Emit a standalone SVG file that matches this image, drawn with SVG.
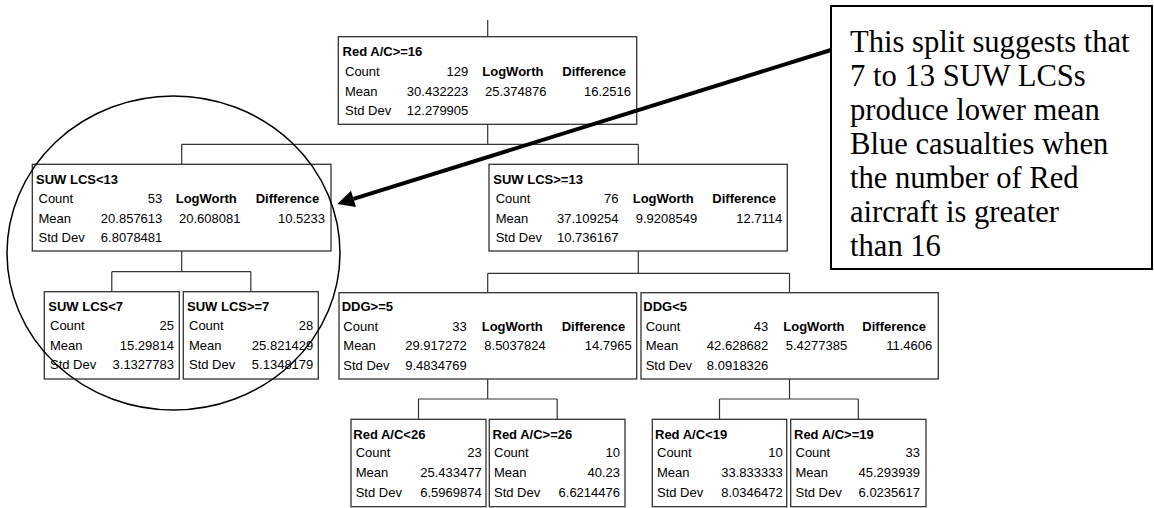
<svg xmlns="http://www.w3.org/2000/svg" width="1154" height="508" viewBox="0 0 1154 508">
<style>
  .box{fill:#fff;stroke:#333;stroke-width:1.3}
  .t{font-family:"Liberation Sans",Arial,sans-serif;font-size:13px;fill:#000}
  .b{font-weight:bold}
  .e{text-anchor:end}
  .conn{fill:none;stroke:#333;stroke-width:1.2}
  .note{font-family:"Liberation Serif","Times New Roman",serif;font-size:30.6px;fill:#000}
</style>
<rect width="1154" height="508" fill="#fff"/>
<g id="connectors" class="conn">
  <path d="M487.7,20 V36.7"/>
  <path d="M487.7,124.3 V144.3 M181.7,144.3 H638.3 M181.7,144.3 V164.3 M638.3,144.3 V164.3"/>
  <path d="M181.7,251 V271.7 M111.8,271.7 H250.8 M111.8,271.7 V291.7 M250.8,271.7 V291.7"/>
  <path d="M638.3,251 V273.3 M487.7,273.3 H789.5 M487.7,273.3 V292.7 M789.5,273.3 V292.7"/>
  <path d="M487.7,379 V399 M418.5,399 H557.2 M418.5,399 V419.3 M557.2,399 V419.3"/>
  <path d="M789.5,379 V399 M719.5,399 H858.3 M719.5,399 V419.3 M858.3,399 V419.3"/>
</g>
<g id="n-red16">
  <rect class="box" x="338.3" y="36.7" width="298.4" height="87.6"/>
  <text class="t b" x="342.6" y="56">Red A/C&gt;=16</text>
  <text class="t" x="345" y="76">Count</text>
  <text class="t e" x="468.3" y="76">129</text>
  <text class="t b" x="482.3" y="76">LogWorth</text>
  <text class="t b" x="562.3" y="76">Difference</text>
  <text class="t" x="345" y="95.5">Mean</text>
  <text class="t e" x="468.3" y="95.5">30.432223</text>
  <text class="t" x="485" y="95.5">25.374876</text>
  <text class="t e" x="631" y="95.5">16.2516</text>
  <text class="t" x="345" y="115">Std Dev</text>
  <text class="t e" x="468.3" y="115">12.279905</text>
</g>
<g id="n-suw-lt13">
  <rect class="box" x="32.3" y="164.3" width="298.7" height="86.7"/>
  <text class="t b" x="36" y="183.6">SUW LCS&lt;13</text>
  <text class="t" x="38.5" y="203.3">Count</text>
  <text class="t e" x="162.3" y="203.3">53</text>
  <text class="t b" x="175.7" y="203.3">LogWorth</text>
  <text class="t b" x="255.7" y="203.3">Difference</text>
  <text class="t" x="38.5" y="222.8">Mean</text>
  <text class="t e" x="162.3" y="222.8">20.857613</text>
  <text class="t" x="179" y="222.8">20.608081</text>
  <text class="t e" x="325" y="222.8">10.5233</text>
  <text class="t" x="38.5" y="242">Std Dev</text>
  <text class="t e" x="162.3" y="242">6.8078481</text>
</g>
<g id="n-suw-ge13">
  <rect class="box" x="489" y="164.3" width="298.3" height="86.7"/>
  <text class="t b" x="493.3" y="183.6">SUW LCS&gt;=13</text>
  <text class="t" x="495.7" y="203.3">Count</text>
  <text class="t e" x="618.5" y="203.3">76</text>
  <text class="t b" x="632.7" y="203.3">LogWorth</text>
  <text class="t b" x="712.3" y="203.3">Difference</text>
  <text class="t" x="495.7" y="222.8">Mean</text>
  <text class="t e" x="618.5" y="222.8">37.109254</text>
  <text class="t" x="635.7" y="222.8">9.9208549</text>
  <text class="t e" x="782.3" y="222.8">12.7114</text>
  <text class="t" x="495.7" y="242">Std Dev</text>
  <text class="t e" x="618.5" y="242">10.736167</text>
</g>
<g id="n-suw-lt7">
  <rect class="box" x="44.3" y="291.7" width="135" height="87.3"/>
  <text class="t b" x="48.3" y="310.8">SUW LCS&lt;7</text>
  <text class="t" x="50" y="330.3">Count</text>
  <text class="t e" x="174" y="330.3">25</text>
  <text class="t" x="50" y="350">Mean</text>
  <text class="t e" x="174" y="350">15.29814</text>
  <text class="t" x="50" y="369.4">Std Dev</text>
  <text class="t e" x="174" y="369.4">3.1327783</text>
</g>
<g id="n-suw-ge7">
  <rect class="box" x="183.3" y="291.7" width="135" height="87.3"/>
  <text class="t b" x="187" y="310.8">SUW LCS&gt;=7</text>
  <text class="t" x="189" y="330.3">Count</text>
  <text class="t e" x="313.3" y="330.3">28</text>
  <text class="t" x="189" y="350">Mean</text>
  <text class="t e" x="313.3" y="350">25.821429</text>
  <text class="t" x="189" y="369.4">Std Dev</text>
  <text class="t e" x="313.3" y="369.4">5.1348179</text>
</g>
<g id="n-ddg-ge5">
  <rect class="box" x="339" y="292.7" width="297.7" height="86.3"/>
  <text class="t b" x="341.7" y="311.2">DDG&gt;=5</text>
  <text class="t" x="343.3" y="330.5">Count</text>
  <text class="t e" x="466.7" y="330.5">33</text>
  <text class="t b" x="481.7" y="330.5">LogWorth</text>
  <text class="t b" x="561.7" y="330.5">Difference</text>
  <text class="t" x="343.3" y="350.2">Mean</text>
  <text class="t e" x="466.7" y="350.2">29.917272</text>
  <text class="t" x="484.3" y="350.2">8.5037824</text>
  <text class="t e" x="631.7" y="350.2">14.7965</text>
  <text class="t" x="343.3" y="369.5">Std Dev</text>
  <text class="t e" x="466.7" y="369.5">9.4834769</text>
</g>
<g id="n-ddg-lt5">
  <rect class="box" x="641" y="292.7" width="297.3" height="86.3"/>
  <text class="t b" x="643.3" y="311.2">DDG&lt;5</text>
  <text class="t" x="645.7" y="330.5">Count</text>
  <text class="t e" x="768.3" y="330.5">43</text>
  <text class="t b" x="783.3" y="330.5">LogWorth</text>
  <text class="t b" x="862.3" y="330.5">Difference</text>
  <text class="t" x="645.7" y="350.2">Mean</text>
  <text class="t e" x="768.3" y="350.2">42.628682</text>
  <text class="t" x="785.7" y="350.2">5.4277385</text>
  <text class="t e" x="932.3" y="350.2">11.4606</text>
  <text class="t" x="645.7" y="369.5">Std Dev</text>
  <text class="t e" x="768.3" y="369.5">8.0918326</text>
</g>
<g id="n-red-lt26">
  <rect class="box" x="351" y="419.3" width="135" height="87.4"/>
  <text class="t b" x="353.3" y="438.6">Red A/C&lt;26</text>
  <text class="t" x="355.7" y="457.2">Count</text>
  <text class="t e" x="481.7" y="457.2">23</text>
  <text class="t" x="355.7" y="477">Mean</text>
  <text class="t e" x="481.7" y="477">25.433477</text>
  <text class="t" x="355.7" y="496.5">Std Dev</text>
  <text class="t e" x="481.7" y="496.5">6.5969874</text>
</g>
<g id="n-red-ge26">
  <rect class="box" x="489.3" y="419.3" width="135.7" height="87.4"/>
  <text class="t b" x="492.5" y="438.6">Red A/C&gt;=26</text>
  <text class="t" x="494" y="457.2">Count</text>
  <text class="t e" x="620" y="457.2">10</text>
  <text class="t" x="494" y="477">Mean</text>
  <text class="t e" x="620" y="477">40.23</text>
  <text class="t" x="494" y="496.5">Std Dev</text>
  <text class="t e" x="620" y="496.5">6.6214476</text>
</g>
<g id="n-red-lt19">
  <rect class="box" x="652.3" y="419.3" width="134.4" height="87.4"/>
  <text class="t b" x="655" y="438.6">Red A/C&lt;19</text>
  <text class="t" x="657" y="457.2">Count</text>
  <text class="t e" x="782.7" y="457.2">10</text>
  <text class="t" x="657" y="477">Mean</text>
  <text class="t e" x="782.7" y="477">33.833333</text>
  <text class="t" x="657" y="496.5">Std Dev</text>
  <text class="t e" x="782.7" y="496.5">8.0346472</text>
</g>
<g id="n-red-ge19">
  <rect class="box" x="790.7" y="419.3" width="135.3" height="87.4"/>
  <text class="t b" x="794" y="438.6">Red A/C&gt;=19</text>
  <text class="t" x="795.5" y="457.2">Count</text>
  <text class="t e" x="920" y="457.2">33</text>
  <text class="t" x="795.5" y="477">Mean</text>
  <text class="t e" x="920" y="477">45.293939</text>
  <text class="t" x="795.5" y="496.5">Std Dev</text>
  <text class="t e" x="920" y="496.5">6.0235617</text>
</g>
<g id="highlight">
  <ellipse cx="173.5" cy="253" rx="166.5" ry="157" fill="none" stroke="#000" stroke-width="1.5"/>
</g>
<g id="callout-arrow">
  <line x1="831" y1="50" x2="353.5" y2="198.9" stroke="#000" stroke-width="4"/>
  <polygon points="337.3,204 356,207 351,190.8" fill="#000"/>
</g>
<g id="callout">
  <rect x="831" y="6" width="321" height="263" fill="#fff" stroke="#000" stroke-width="2"/>
  <text class="note" x="850" y="52">This split suggests that</text>
  <text class="note" x="850" y="86">7 to 13 SUW LCSs</text>
  <text class="note" x="850" y="120">produce lower mean</text>
  <text class="note" x="850" y="154">Blue casualties when</text>
  <text class="note" x="850" y="188">the number of Red</text>
  <text class="note" x="850" y="222">aircraft is greater</text>
  <text class="note" x="850" y="256">than 16</text>
</g>
</svg>
